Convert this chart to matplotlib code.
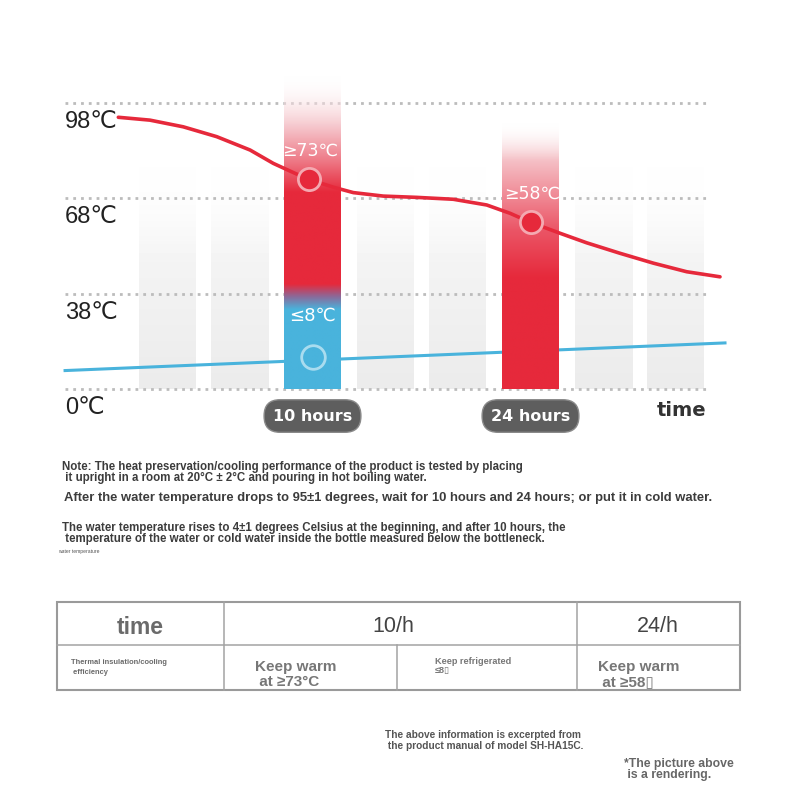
import matplotlib.pyplot as plt
import numpy as np
from matplotlib.colors import to_rgb
from matplotlib.patches import Rectangle

# --- chart data (x in hours, y in chart units) ---
red_x = [-2.47, -0.44, 1.70, 3.85, 5.99, 7.48, 8.77, 9.73, 11.34, 12.62, 14.55, 16.69,
         19.04, 21.19, 22.68, 23.97, 25.90, 27.61, 29.75, 31.89, 34.03, 36.17]
red_y = [85.5, 84.6, 82.5, 79.4, 75.2, 71.0, 68.1, 66.0, 63.5, 61.8, 60.7, 60.3,
         59.7, 57.9, 55.3, 52.5, 49.0, 46.0, 42.7, 39.6, 36.9, 35.3]
blue_x = [-5.89, 36.49]
blue_y = [5.8, 14.5]
grid_vals = [0, 30, 60, 90]
tick_labels = ['0℃', '38℃', '68℃', '98℃']
slot_centers = [0.67, 5.33, 14.67, 19.33, 28.67, 33.33]
mark_hours = [10, 24]
mark_labels = ['10 hours', '24 hours']
hot_x = [9.75, 24.0]
hot_vals = [66.0, 52.5]
hot_texts = ['≥73℃', '≥58℃']
cold_val = 10.0
cold_text = '≤8℃'

CJK = ['DejaVu Sans', 'Noto Sans CJK SC']
BOLD = ['Liberation Sans', 'DejaVu Sans']

RED = '#e6293b'
BLUE = '#49b3dc'

fig = plt.figure(figsize=(8, 8), dpi=100)
bg = fig.add_axes([0, 0, 1, 1])
bg.set_xlim(0, 800)
bg.set_ylim(800, 0)
bg.axis('off')

# chart axes: pixels 60..740 horizontally, 60..440 vertically
ax = fig.add_axes([60 / 800, 360 / 800, 680 / 800, 380 / 800])
ax.patch.set_alpha(0)
ax.axis('off')
px_h = 218 / 14.0
px_v = 3.178
xlim = (10 + (60 - 312.5) / px_h, 10 + (740 - 312.5) / px_h)
ylim = ((389 - 440) / px_v, (389 - 60) / px_v)

bar_w = 57 / px_h


def gradient_bar(xc, top, stops, z):
    vs = np.linspace(0, top, 300)
    cols = np.zeros((300, 1, 4))
    sv = [s[0] for s in stops]
    for k in range(3):
        cols[:, 0, k] = np.interp(vs, sv, [to_rgb(s[1])[k] for s in stops])
    cols[:, 0, 3] = np.interp(vs, sv, [s[2] for s in stops])
    ax.imshow(cols, extent=[xc - bar_w / 2, xc + bar_w / 2, 0, top], origin='lower',
              aspect='auto', zorder=z, interpolation='bilinear')


# light gray background columns
for xc in slot_centers:
    gradient_bar(xc, 70, [(0, '#ececec', 1), (40, '#f4f4f4', 1), (70, '#ffffff', 0)], 1)

# gridlines
for g in grid_vals:
    ax.plot([xlim[0] + 5 / px_h, 10 + (708 - 312.5) / px_h], [g, g], color='#bcbcbc',
            lw=2.0, linestyle=(0, (1, 1.8)), zorder=2, solid_capstyle='butt')

# highlighted columns
gradient_bar(10, 98.8, [(0, BLUE, 1), (25, BLUE, 1), (29, '#8a6a9a', 1), (33, RED, 1),
                        (62, RED, 1), (72, '#ee7a87', 1), (82, '#f5c2c8', 1), (98.8, '#ffffff', 0)], 3)
gradient_bar(24, 84, [(0, RED, 1), (35, RED, 1), (50, '#eb5566', 1), (72, '#f5c0c6', 1),
                      (84, '#ffffff', 0)], 3)

# curves
ax.plot(red_x, red_y, color=RED, lw=2.6, zorder=4, solid_capstyle='round', solid_joinstyle='round')
ax.plot(blue_x, blue_y, color=BLUE, lw=2.2, zorder=2.5)

for h, v, t in zip(hot_x, hot_vals, hot_texts):
    ax.plot(h, v, 'o', ms=16, mfc=RED, mec='#f4a9b1', mew=2, zorder=5)
    ax.text(h + 0.1, v + 9, t, color='white', fontsize=12.5, ha='center', va='center',
            family=CJK, zorder=6)
ax.plot(10, cold_val, 'o', ms=17, mfc='none', mec='#a9dcef', mew=2, zorder=5)
ax.text(10, cold_val + 13, cold_text, color='white', fontsize=13, ha='center', va='center',
        family=CJK, zorder=6)

for g, lab in zip(grid_vals, tick_labels):
    ax.text(xlim[0] + 5 / px_h, g - 6, lab, fontsize=17, color='#222222', ha='left',
            va='center', family=['Liberation Sans', 'DejaVu Sans', 'Noto Sans CJK SC'])

for h, lab in zip(mark_hours, mark_labels):
    ax.text(h, -8.5, lab, fontsize=11.5, color='white', weight='bold', ha='center', va='center',
            bbox=dict(boxstyle='round,pad=0.55,rounding_size=1.0', fc='#5e5e5e', ec='#8a8a8a', lw=1),
            zorder=6)
ax.text(33.7, -6.8, 'time', fontsize=14, weight='bold', color='#333333', ha='center', va='center')

ax.set_xlim(*xlim)
ax.set_ylim(*ylim)


# --- notes ---
def t(x, y, s, size, color='#3c3c3c', weight='bold', family=BOLD, ha='left'):
    bg.text(x, y, s, fontsize=size, color=color, weight=weight, family=family, ha=ha, va='center')


t(62, 467, 'Note: The heat preservation/cooling performance of the product is tested by placing', 8.3)
t(62, 478, ' it upright in a room at 20°C ± 2°C and pouring in hot boiling water.', 8.3)
t(64, 498, 'After the water temperature drops to 95±1 degrees, wait for 10 hours and 24 hours; or put it in cold water.', 9.4)
t(62, 528, 'The water temperature rises to 4±1 degrees Celsius at the beginning, and after 10 hours, the', 8.3)
t(62, 539, ' temperature of the water or cold water inside the bottle measured below the bottleneck.', 8.3)
t(58, 551, 'water temperature', 3.6, color='#555555', weight='normal')

# --- table ---
tcol = '#a3a3a3'
bg.add_patch(Rectangle((57, 602), 683, 88, fill=False, ec='#9a9a9a', lw=1.5))
bg.plot([57, 740], [645, 645], color=tcol, lw=1.1)
for xv in [224, 577]:
    bg.plot([xv, xv], [602, 690], color=tcol, lw=1.1)
bg.plot([397, 397], [645, 690], color=tcol, lw=1.1)

t(140, 628, 'time', 16.5, color='#6a6a6a', ha='center')
t(393, 627, '10/h', 15.5, color='#444444', weight='normal', ha='center')
t(658, 627, '24/h', 15.5, color='#444444', weight='normal', ha='center')
t(71, 662, 'Thermal insulation/cooling', 5.4, color='#6a6a6a')
t(71, 672, ' efficiency', 5.4, color='#6a6a6a')
t(255, 667, 'Keep warm', 11, color='#777777')
t(255, 682, ' at ≥73°C', 11, color='#777777')
t(435, 661, 'Keep refrigerated', 6.6, color='#777777')
t(435, 671, '≤8\u25af', 6.6, color='#777777')
t(598, 667, 'Keep warm', 11, color='#777777')
t(598, 682, ' at ≥58\u25af', 11, color='#777777')

# --- footer ---
t(385, 735, 'The above information is excerpted from', 7.3, color='#555555')
t(385, 746, ' the product manual of model SH-HA15C.', 7.3, color='#555555')
t(624, 764, '*The picture above', 8.8, color='#666666')
t(624, 775, ' is a rendering.', 8.8, color='#666666')

fig.savefig('out.png', dpi=100, facecolor='white')
